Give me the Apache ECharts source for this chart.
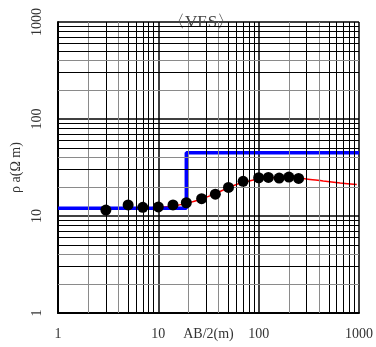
<!DOCTYPE html>
<html>
<head>
<meta charset="utf-8">
<script src="https://cdn.jsdelivr.net/npm/echarts@6/dist/echarts.min.js"></script>
<style>
  html, body { margin: 0; padding: 0; background: #fff; }
  #chart { width: 376px; height: 347px; }
</style>
</head>
<body>
<div id="chart"></div>
<script>
// Half electrode spacing AB/2 (m) of each sounding reading
const spacing = [3, 5, 7, 10, 14, 19, 27, 37, 50, 70, 100, 125, 160, 200, 250];
// Measured apparent resistivity (ohm-m)
const observed = [11.5, 13.0, 12.3, 12.4, 13.0, 13.7, 15.1, 16.8, 19.7, 22.8, 24.8, 25.0, 24.6, 25.2, 24.4];

// Theoretical curve of the fitted model
const calcX = [1, 3, 5, 7, 10, 14, 19, 27, 37, 50, 70, 100, 130, 160, 200, 250, 300, 440, 650, 950];
const calcY = [12.0, 12.0, 12.05, 12.1, 12.3, 12.7, 13.5, 15.0, 17.0, 19.6, 22.3, 24.0, 24.8, 25.0, 24.8, 24.5, 24.1, 22.9, 21.9, 21.1];

// Layered model (step profile)
const layerX = [1, 19, 19, 1000];
const layerY = [12, 12, 45, 45];

// Log-paper grid
const decades = [1, 10, 100];
const multipliers = [2, 3, 4, 5, 6, 7, 8, 9];
const lightMultipliers = [2, 4];

const serif = '"Liberation Serif", "DejaVu Serif", serif';
const textColor = '#333';

function gridLines(axisKey) {
  const out = [];
  decades.forEach(d => {
    multipliers.forEach(m => {
      const item = {};
      item[axisKey] = d * m;
      item.lineStyle = {
        color: lightMultipliers.indexOf(m) >= 0 ? '#8a8a8a' : '#000',
        width: 1,
        type: 'solid'
      };
      out.push(item);
    });
  });
  return out;
}

const plain = v => String(Math.round(v));

const chart = echarts.init(document.getElementById('chart'), null, { renderer: 'canvas' });

chart.setOption({
  animation: false,
  backgroundColor: '#fff',
  title: {
    text: '〈VES〉',
    left: 163,
    top: 9,
    z: 0,
    textStyle: { fontFamily: serif, fontSize: 17, fontWeight: 'normal', color: '#444' }
  },
  grid: { left: 58, right: 17, top: 22, bottom: 34, containLabel: false, outerBoundsMode: 'none' },
  xAxis: {
    type: 'log',
    logBase: 10,
    min: 1,
    max: 1000,
    name: 'AB/2(m)',
    nameLocation: 'middle',
    nameGap: 14,
    nameMoveOverlap: false,
    nameTextStyle: { fontFamily: serif, fontSize: 14, color: textColor, verticalAlign: 'top' },
    axisLine: { show: true, lineStyle: { color: '#000', width: 2 } },
    axisTick: { show: false },
    axisLabel: { fontFamily: serif, fontSize: 14, color: textColor, margin: 14, formatter: plain },
    splitLine: { show: true, lineStyle: { color: '#000', width: 1.5 } }
  },
  yAxis: {
    type: 'log',
    logBase: 10,
    min: 1,
    max: 1000,
    name: 'ρ a(Ω m)',
    nameLocation: 'middle',
    nameRotate: 90,
    nameGap: 35,
    nameMoveOverlap: false,
    nameTextStyle: { fontFamily: serif, fontSize: 14, color: textColor },
    axisLine: { show: true, lineStyle: { color: '#000', width: 2 } },
    axisTick: { show: false },
    axisLabel: { fontFamily: serif, fontSize: 14, color: textColor, rotate: 90, margin: 14, formatter: plain },
    splitLine: { show: true, lineStyle: { color: '#000', width: 1.5 } }
  },
  series: [
    {
      name: 'grid',
      type: 'line',
      z: 1,
      silent: true,
      data: [[1, 1]],
      symbol: 'none',
      lineStyle: { opacity: 0 },
      markLine: {
        silent: true,
        symbol: 'none',
        label: { show: false },
        animation: false,
        data: gridLines('xAxis').concat(gridLines('yAxis'))
      }
    },
    {
      name: 'calculated',
      type: 'line',
      z: 3,
      symbol: 'none',
      smooth: 0.3,
      lineStyle: { color: '#ff0000', width: 1.5 },
      data: calcX.map((x, i) => [x, calcY[i]])
    },
    {
      name: 'model',
      type: 'line',
      z: 4,
      symbol: 'none',
      lineStyle: { color: '#0000ff', width: 3.5 },
      data: layerX.map((x, i) => [x, layerY[i]])
    },
    {
      name: 'observed',
      type: 'scatter',
      z: 5,
      symbol: 'circle',
      symbolSize: 11,
      itemStyle: { color: '#000', opacity: 1 },
      data: spacing.map((x, i) => [x, observed[i]])
    }
  ]
});
</script>
</body>
</html>
